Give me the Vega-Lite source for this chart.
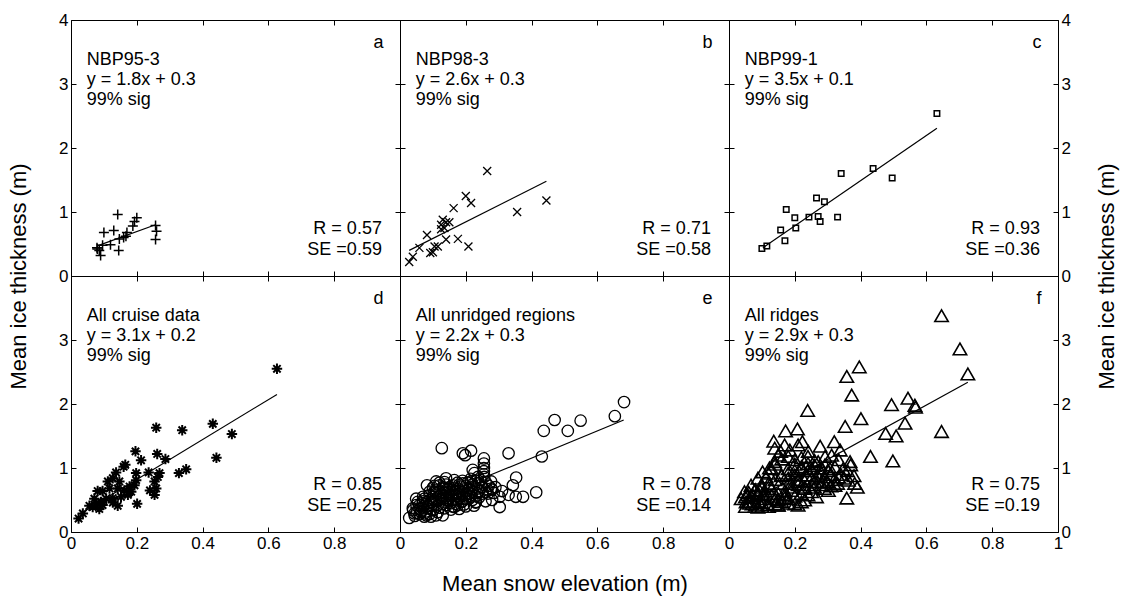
{
"$schema":"https://vega.github.io/schema/vega-lite/v6.json",
"background":"white",
"padding":{"left":6,"top":10,"right":5,"bottom":5},
"bounds":"flush",
"spacing":0,
"columns":3,
"datasets":{
"pts":[
{"p":"a","x":0.142,"y":0.96},{"p":"a","x":0.10,"y":0.68},{"p":"a","x":0.13,"y":0.71},{"p":"a","x":0.08,"y":0.42},{"p":"a","x":0.086,"y":0.40},{"p":"a","x":0.09,"y":0.32},{"p":"a","x":0.096,"y":0.48},{"p":"a","x":0.12,"y":0.49},{"p":"a","x":0.145,"y":0.40},{"p":"a","x":0.147,"y":0.58},{"p":"a","x":0.16,"y":0.60},{"p":"a","x":0.17,"y":0.68},{"p":"a","x":0.188,"y":0.78},{"p":"a","x":0.193,"y":0.85},{"p":"a","x":0.20,"y":0.91},{"p":"a","x":0.257,"y":0.79},{"p":"a","x":0.26,"y":0.70},{"p":"a","x":0.257,"y":0.57},{"p":"a","x":0.079,"y":0.44},{"p":"a","x":0.167,"y":0.62},
{"p":"b","x":0.265,"y":1.64},{"p":"b","x":0.20,"y":1.25},{"p":"b","x":0.216,"y":1.14},{"p":"b","x":0.163,"y":1.06},{"p":"b","x":0.445,"y":1.18},{"p":"b","x":0.356,"y":1.00},{"p":"b","x":0.13,"y":0.88},{"p":"b","x":0.14,"y":0.84},{"p":"b","x":0.15,"y":0.84},{"p":"b","x":0.125,"y":0.80},{"p":"b","x":0.135,"y":0.75},{"p":"b","x":0.082,"y":0.64},{"p":"b","x":0.14,"y":0.57},{"p":"b","x":0.176,"y":0.58},{"p":"b","x":0.208,"y":0.46},{"p":"b","x":0.059,"y":0.44},{"p":"b","x":0.105,"y":0.46},{"p":"b","x":0.115,"y":0.46},{"p":"b","x":0.092,"y":0.36},{"p":"b","x":0.10,"y":0.37},{"p":"b","x":0.039,"y":0.30},{"p":"b","x":0.028,"y":0.22},{"p":"b","x":0.125,"y":0.73},
{"p":"c","x":0.632,"y":2.54},{"p":"c","x":0.438,"y":1.68},{"p":"c","x":0.496,"y":1.53},{"p":"c","x":0.341,"y":1.60},{"p":"c","x":0.266,"y":1.22},{"p":"c","x":0.29,"y":1.16},{"p":"c","x":0.174,"y":1.04},{"p":"c","x":0.20,"y":0.91},{"p":"c","x":0.243,"y":0.92},{"p":"c","x":0.271,"y":0.93},{"p":"c","x":0.277,"y":0.85},{"p":"c","x":0.33,"y":0.92},{"p":"c","x":0.203,"y":0.75},{"p":"c","x":0.157,"y":0.72},{"p":"c","x":0.17,"y":0.55},{"p":"c","x":0.10,"y":0.43},{"p":"c","x":0.115,"y":0.47},
{"p":"d","x":0.626,"y":2.55},{"p":"d","x":0.431,"y":1.69},{"p":"d","x":0.489,"y":1.53},{"p":"d","x":0.259,"y":1.63},{"p":"d","x":0.338,"y":1.59},{"p":"d","x":0.442,"y":1.16},{"p":"d","x":0.196,"y":1.26},{"p":"d","x":0.213,"y":1.12},{"p":"d","x":0.262,"y":1.22},{"p":"d","x":0.287,"y":1.14},{"p":"d","x":0.165,"y":1.05},{"p":"d","x":0.16,"y":1.02},{"p":"d","x":0.328,"y":0.92},{"p":"d","x":0.35,"y":0.98},{"p":"d","x":0.269,"y":0.92},{"p":"d","x":0.236,"y":0.93},{"p":"d","x":0.198,"y":0.92},{"p":"d","x":0.137,"y":0.93},{"p":"d","x":0.127,"y":0.84},{"p":"d","x":0.254,"y":0.79},{"p":"d","x":0.264,"y":0.86},{"p":"d","x":0.198,"y":0.81},{"p":"d","x":0.193,"y":0.73},{"p":"d","x":0.259,"y":0.68},{"p":"d","x":0.254,"y":0.58},{"p":"d","x":0.147,"y":0.79},{"p":"d","x":0.112,"y":0.79},{"p":"d","x":0.117,"y":0.68},{"p":"d","x":0.081,"y":0.64},{"p":"d","x":0.096,"y":0.64},{"p":"d","x":0.142,"y":0.68},{"p":"d","x":0.162,"y":0.65},{"p":"d","x":0.173,"y":0.58},{"p":"d","x":0.178,"y":0.71},{"p":"d","x":0.152,"y":0.55},{"p":"d","x":0.127,"y":0.53},{"p":"d","x":0.107,"y":0.52},{"p":"d","x":0.091,"y":0.47},{"p":"d","x":0.076,"y":0.45},{"p":"d","x":0.056,"y":0.41},{"p":"d","x":0.066,"y":0.39},{"p":"d","x":0.086,"y":0.36},{"p":"d","x":0.096,"y":0.42},{"p":"d","x":0.142,"y":0.41},{"p":"d","x":0.201,"y":0.44},{"p":"d","x":0.036,"y":0.29},{"p":"d","x":0.023,"y":0.21},{"p":"d","x":0.127,"y":0.46},{"p":"d","x":0.071,"y":0.52},{"p":"d","x":0.183,"y":0.63},{"p":"d","x":0.24,"y":0.65},
{"p":"e","x":0.681,"y":2.03},{"p":"e","x":0.653,"y":1.81},{"p":"e","x":0.549,"y":1.74},{"p":"e","x":0.47,"y":1.75},{"p":"e","x":0.51,"y":1.58},{"p":"e","x":0.437,"y":1.58},{"p":"e","x":0.431,"y":1.18},{"p":"e","x":0.33,"y":1.23},{"p":"e","x":0.127,"y":1.31},{"p":"e","x":0.191,"y":1.23},{"p":"e","x":0.216,"y":1.27},{"p":"e","x":0.198,"y":1.20},{"p":"e","x":0.255,"y":1.15},{"p":"e","x":0.255,"y":1.07},{"p":"e","x":0.255,"y":1.00},{"p":"e","x":0.255,"y":0.95},{"p":"e","x":0.255,"y":0.90},{"p":"e","x":0.353,"y":0.85},{"p":"e","x":0.343,"y":0.73},{"p":"e","x":0.414,"y":0.62},{"p":"e","x":0.374,"y":0.55},{"p":"e","x":0.352,"y":0.55},{"p":"e","x":0.303,"y":0.55},{"p":"e","x":0.303,"y":0.39},{"p":"e","x":0.267,"y":0.60},{"p":"e","x":0.277,"y":0.79},{"p":"e","x":0.226,"y":0.92},{"p":"e","x":0.216,"y":0.79},{"p":"e","x":0.237,"y":0.68},{"p":"e","x":0.201,"y":0.52},{"p":"e","x":0.176,"y":0.42},{"p":"e","x":0.14,"y":0.42},{"p":"e","x":0.11,"y":0.26},{"p":"e","x":0.074,"y":0.24},{"p":"e","x":0.028,"y":0.22},{"p":"e","x":0.039,"y":0.37},{"p":"e","x":0.054,"y":0.47},{"p":"e","x":0.082,"y":0.73},{"p":"e","x":0.11,"y":0.79},{"p":"e","x":0.14,"y":0.84},{"p":"e","x":0.165,"y":0.81},{"p":"e","x":0.191,"y":0.76},{"p":"e","x":0.135,"y":0.68},{"p":"e","x":0.105,"y":0.63},{"p":"e","x":0.074,"y":0.52},{"p":"e","x":0.059,"y":0.42},{"p":"e","x":0.094,"y":0.47},{"p":"e","x":0.125,"y":0.52},{"p":"e","x":0.155,"y":0.58},{"p":"e","x":0.176,"y":0.68},{"p":"e","x":0.115,"y":0.42},{"p":"e","x":0.084,"y":0.37},{"p":"e","x":0.064,"y":0.31},{"p":"e","x":0.145,"y":0.50},{"p":"e","x":0.206,"y":0.65},{"p":"e","x":0.237,"y":0.86},{"p":"e","x":0.221,"y":0.97},{"p":"e","x":0.256,"y":0.86},{"p":"e","x":0.277,"y":0.68},{"p":"e","x":0.231,"y":0.47},{"p":"e","x":0.044,"y":0.29},{"p":"e","x":0.094,"y":0.24},{"p":"e","x":0.13,"y":0.26},{"p":"e","x":0.165,"y":0.39},{"p":"e","x":0.049,"y":0.52},{"p":"e","x":0.12,"y":0.73},{"p":"e","x":0.16,"y":0.73},{"p":"e","x":0.186,"y":0.47},{"p":"e","x":0.069,"y":0.45},
{"p":"e","x":0.05,"y":0.30},{"p":"e","x":0.06,"y":0.36},{"p":"e","x":0.07,"y":0.40},{"p":"e","x":0.08,"y":0.44},{"p":"e","x":0.09,"y":0.50},{"p":"e","x":0.10,"y":0.55},{"p":"e","x":0.11,"y":0.60},{"p":"e","x":0.12,"y":0.64},{"p":"e","x":0.13,"y":0.70},{"p":"e","x":0.14,"y":0.74},{"p":"e","x":0.15,"y":0.70},{"p":"e","x":0.16,"y":0.66},{"p":"e","x":0.17,"y":0.62},{"p":"e","x":0.18,"y":0.74},{"p":"e","x":0.19,"y":0.80},{"p":"e","x":0.20,"y":0.72},{"p":"e","x":0.21,"y":0.68},{"p":"e","x":0.22,"y":0.74},{"p":"e","x":0.23,"y":0.80},{"p":"e","x":0.24,"y":0.76},{"p":"e","x":0.25,"y":0.70},{"p":"e","x":0.26,"y":0.78},{"p":"e","x":0.27,"y":0.72},{"p":"e","x":0.28,"y":0.66},{"p":"e","x":0.06,"y":0.28},{"p":"e","x":0.08,"y":0.32},{"p":"e","x":0.10,"y":0.34},{"p":"e","x":0.12,"y":0.38},{"p":"e","x":0.14,"y":0.46},{"p":"e","x":0.16,"y":0.50},{"p":"e","x":0.18,"y":0.54},{"p":"e","x":0.20,"y":0.58},{"p":"e","x":0.22,"y":0.62},{"p":"e","x":0.07,"y":0.48},{"p":"e","x":0.09,"y":0.58},{"p":"e","x":0.11,"y":0.66},{"p":"e","x":0.13,"y":0.56},{"p":"e","x":0.15,"y":0.60},{"p":"e","x":0.17,"y":0.44},{"p":"e","x":0.19,"y":0.48},{"p":"e","x":0.21,"y":0.52},{"p":"e","x":0.23,"y":0.56},{"p":"e","x":0.25,"y":0.60},{"p":"e","x":0.04,"y":0.34},{"p":"e","x":0.05,"y":0.42},{"p":"e","x":0.08,"y":0.26},{"p":"e","x":0.10,"y":0.44},{"p":"e","x":0.12,"y":0.50},{"p":"e","x":0.14,"y":0.56},{"p":"e","x":0.16,"y":0.40},{"p":"e","x":0.18,"y":0.36},{"p":"e","x":0.20,"y":0.40},{"p":"e","x":0.24,"y":0.64},{"p":"e","x":0.26,"y":0.62},{"p":"e","x":0.29,"y":0.70},{"p":"e","x":0.31,"y":0.64},{"p":"e","x":0.33,"y":0.58},{"p":"e","x":0.07,"y":0.55},{"p":"e","x":0.09,"y":0.63},{"p":"e","x":0.11,"y":0.52},{"p":"e","x":0.13,"y":0.44},{"p":"e","x":0.15,"y":0.52},{"p":"e","x":0.17,"y":0.56},{"p":"e","x":0.19,"y":0.62},{"p":"e","x":0.21,"y":0.60},{"p":"e","x":0.23,"y":0.46},{"p":"e","x":0.10,"y":0.69},{"p":"e","x":0.12,"y":0.77},{"p":"e","x":0.14,"y":0.66},{"p":"e","x":0.16,"y":0.58},{"p":"e","x":0.18,"y":0.64},{"p":"e","x":0.20,"y":0.52},{"p":"e","x":0.22,"y":0.50},{"p":"e","x":0.24,"y":0.54},{"p":"e","x":0.26,"y":0.48},{"p":"e","x":0.28,"y":0.50},
{"p":"e","x":0.045,"y":0.25},{"p":"e","x":0.065,"y":0.33},{"p":"e","x":0.085,"y":0.41},{"p":"e","x":0.105,"y":0.49},{"p":"e","x":0.125,"y":0.57},{"p":"e","x":0.145,"y":0.63},{"p":"e","x":0.165,"y":0.69},{"p":"e","x":0.185,"y":0.71},{"p":"e","x":0.205,"y":0.77},{"p":"e","x":0.225,"y":0.71},{"p":"e","x":0.245,"y":0.81},{"p":"e","x":0.075,"y":0.29},{"p":"e","x":0.095,"y":0.35},{"p":"e","x":0.115,"y":0.31},{"p":"e","x":0.135,"y":0.37},{"p":"e","x":0.155,"y":0.45},{"p":"e","x":0.175,"y":0.51},{"p":"e","x":0.195,"y":0.57},{"p":"e","x":0.215,"y":0.55},{"p":"e","x":0.235,"y":0.61},{"p":"e","x":0.265,"y":0.67},{"p":"e","x":0.285,"y":0.61},{"p":"e","x":0.105,"y":0.72},{"p":"e","x":0.135,"y":0.78},{"p":"e","x":0.175,"y":0.77},{"p":"e","x":0.215,"y":0.83},{"p":"e","x":0.155,"y":0.35},{"p":"e","x":0.195,"y":0.43},{"p":"e","x":0.225,"y":0.41},{"p":"e","x":0.09,"y":0.28},
{"p":"f","x":0.646,"y":3.38},{"p":"f","x":0.702,"y":2.86},{"p":"f","x":0.726,"y":2.47},{"p":"f","x":0.396,"y":2.58},{"p":"f","x":0.358,"y":2.43},{"p":"f","x":0.373,"y":2.14},{"p":"f","x":0.239,"y":1.90},{"p":"f","x":0.494,"y":1.99},{"p":"f","x":0.544,"y":2.09},{"p":"f","x":0.565,"y":1.98},{"p":"f","x":0.567,"y":1.95},{"p":"f","x":0.401,"y":1.77},{"p":"f","x":0.535,"y":1.70},{"p":"f","x":0.646,"y":1.57},{"p":"f","x":0.476,"y":1.54},{"p":"f","x":0.508,"y":1.50},{"p":"f","x":0.353,"y":1.65},{"p":"f","x":0.43,"y":1.18},{"p":"f","x":0.498,"y":1.11},{"p":"f","x":0.172,"y":1.58},{"p":"f","x":0.208,"y":1.61},{"p":"f","x":0.223,"y":1.41},{"p":"f","x":0.136,"y":1.42},{"p":"f","x":0.185,"y":1.28},{"p":"f","x":0.157,"y":1.26},{"p":"f","x":0.277,"y":1.34},{"p":"f","x":0.32,"y":1.41},{"p":"f","x":0.338,"y":1.28},{"p":"f","x":0.292,"y":1.18},{"p":"f","x":0.368,"y":1.10},{"p":"f","x":0.347,"y":0.99},{"p":"f","x":0.382,"y":0.76},{"p":"f","x":0.363,"y":0.81},{"p":"f","x":0.358,"y":0.53},{"p":"f","x":0.322,"y":0.73},{"p":"f","x":0.307,"y":0.99},{"p":"f","x":0.282,"y":0.92},{"p":"f","x":0.261,"y":0.79},{"p":"f","x":0.24,"y":1.07},{"p":"f","x":0.22,"y":0.99},{"p":"f","x":0.2,"y":1.13},{"p":"f","x":0.18,"y":0.99},{"p":"f","x":0.159,"y":0.89},{"p":"f","x":0.139,"y":1.10},{"p":"f","x":0.129,"y":0.99},{"p":"f","x":0.113,"y":0.86},{"p":"f","x":0.098,"y":0.73},{"p":"f","x":0.078,"y":0.65},{"p":"f","x":0.057,"y":0.58},{"p":"f","x":0.062,"y":0.45},{"p":"f","x":0.088,"y":0.39},{"p":"f","x":0.118,"y":0.43},{"p":"f","x":0.139,"y":0.52},{"p":"f","x":0.169,"y":0.58},{"p":"f","x":0.19,"y":0.65},{"p":"f","x":0.21,"y":0.79},{"p":"f","x":0.231,"y":0.68},{"p":"f","x":0.251,"y":0.63},{"p":"f","x":0.266,"y":0.55},{"p":"f","x":0.302,"y":0.65},{"p":"f","x":0.22,"y":0.47},{"p":"f","x":0.18,"y":0.45},{"p":"f","x":0.149,"y":0.42},{"p":"f","x":0.21,"y":0.42},{"p":"f","x":0.108,"y":0.58},{"p":"f","x":0.072,"y":0.58},{"p":"f","x":0.052,"y":0.47},{"p":"f","x":0.093,"y":0.65},{"p":"f","x":0.123,"y":0.73},{"p":"f","x":0.154,"y":0.76},{"p":"f","x":0.18,"y":0.84},{"p":"f","x":0.2,"y":0.89},{"p":"f","x":0.236,"y":0.89},{"p":"f","x":0.251,"y":0.99},{"p":"f","x":0.271,"y":1.10},{"p":"f","x":0.292,"y":1.05},{"p":"f","x":0.322,"y":1.02},{"p":"f","x":0.333,"y":0.86},{"p":"f","x":0.287,"y":0.79},{"p":"f","x":0.241,"y":1.26},{"p":"f","x":0.169,"y":1.36},{"p":"f","x":0.21,"y":1.36},{"p":"f","x":0.149,"y":1.20},{"p":"f","x":0.123,"y":1.0},{"p":"f","x":0.139,"y":1.31},{"p":"f","x":0.102,"y":0.94},{"p":"f","x":0.088,"y":0.84},{"p":"f","x":0.067,"y":0.73},{"p":"f","x":0.047,"y":0.63},{"p":"f","x":0.037,"y":0.52},{"p":"f","x":0.312,"y":1.2},{"p":"f","x":0.333,"y":1.13},
{"p":"f","x":0.05,"y":0.40},{"p":"f","x":0.07,"y":0.44},{"p":"f","x":0.09,"y":0.48},{"p":"f","x":0.11,"y":0.52},{"p":"f","x":0.13,"y":0.56},{"p":"f","x":0.15,"y":0.60},{"p":"f","x":0.17,"y":0.64},{"p":"f","x":0.19,"y":0.70},{"p":"f","x":0.21,"y":0.74},{"p":"f","x":0.23,"y":0.80},{"p":"f","x":0.25,"y":0.84},{"p":"f","x":0.27,"y":0.88},{"p":"f","x":0.29,"y":0.86},{"p":"f","x":0.31,"y":0.90},{"p":"f","x":0.06,"y":0.62},{"p":"f","x":0.08,"y":0.66},{"p":"f","x":0.10,"y":0.70},{"p":"f","x":0.12,"y":0.76},{"p":"f","x":0.14,"y":0.82},{"p":"f","x":0.16,"y":0.88},{"p":"f","x":0.18,"y":0.92},{"p":"f","x":0.20,"y":0.96},{"p":"f","x":0.22,"y":1.02},{"p":"f","x":0.24,"y":0.96},{"p":"f","x":0.26,"y":1.04},{"p":"f","x":0.28,"y":1.00},{"p":"f","x":0.30,"y":0.96},{"p":"f","x":0.08,"y":0.42},{"p":"f","x":0.10,"y":0.46},{"p":"f","x":0.12,"y":0.40},{"p":"f","x":0.14,"y":0.44},{"p":"f","x":0.16,"y":0.48},{"p":"f","x":0.18,"y":0.52},{"p":"f","x":0.20,"y":0.56},{"p":"f","x":0.22,"y":0.60},{"p":"f","x":0.24,"y":0.58},{"p":"f","x":0.26,"y":0.70},{"p":"f","x":0.28,"y":0.74},{"p":"f","x":0.30,"y":0.78},{"p":"f","x":0.32,"y":0.82},{"p":"f","x":0.34,"y":0.90},{"p":"f","x":0.36,"y":0.96},{"p":"f","x":0.07,"y":0.54},{"p":"f","x":0.09,"y":0.60},{"p":"f","x":0.11,"y":0.64},{"p":"f","x":0.13,"y":0.68},{"p":"f","x":0.15,"y":0.50},{"p":"f","x":0.17,"y":0.54},{"p":"f","x":0.19,"y":0.76},{"p":"f","x":0.21,"y":0.82},{"p":"f","x":0.23,"y":0.70},{"p":"f","x":0.25,"y":0.74},{"p":"f","x":0.27,"y":0.78},{"p":"f","x":0.29,"y":0.68},{"p":"f","x":0.31,"y":0.72},{"p":"f","x":0.33,"y":0.76},{"p":"f","x":0.35,"y":0.84},{"p":"f","x":0.12,"y":0.92},{"p":"f","x":0.14,"y":1.06},{"p":"f","x":0.16,"y":1.14},{"p":"f","x":0.18,"y":1.18},{"p":"f","x":0.20,"y":1.06},{"p":"f","x":0.22,"y":1.16},{"p":"f","x":0.24,"y":1.18},{"p":"f","x":0.26,"y":1.12},{"p":"f","x":0.10,"y":0.40},{"p":"f","x":0.15,"y":0.42},{"p":"f","x":0.20,"y":0.44},{"p":"f","x":0.23,"y":0.50},{"p":"f","x":0.05,"y":0.55},{"p":"f","x":0.06,"y":0.48},{"p":"f","x":0.38,"y":0.88},{"p":"f","x":0.37,"y":1.05},{"p":"f","x":0.39,"y":0.70}
],
"lines":[
{"p":"a","x":0.08,"y":0.47},{"p":"a","x":0.257,"y":0.80},
{"p":"b","x":0.028,"y":0.40},{"p":"b","x":0.445,"y":1.48},
{"p":"c","x":0.103,"y":0.44},{"p":"c","x":0.632,"y":2.31},
{"p":"d","x":0.03,"y":0.29},{"p":"d","x":0.626,"y":2.15},
{"p":"e","x":0.03,"y":0.37},{"p":"e","x":0.68,"y":1.75},
{"p":"f","x":0.04,"y":0.40},{"p":"f","x":0.726,"y":2.34}
],
"notes":[
{"p":"a","head":"NBP95-3\ny = 1.8x + 0.3\n99% sig","stats":"R = 0.57\nSE =0.59","letter":"a"},
{"p":"b","head":"NBP98-3\ny = 2.6x + 0.3\n99% sig","stats":"R = 0.71\nSE =0.58","letter":"b"},
{"p":"c","head":"NBP99-1\ny = 3.5x + 0.1\n99% sig","stats":"R = 0.93\nSE =0.36","letter":"c"},
{"p":"d","head":"All cruise data\ny = 3.1x + 0.2\n99% sig","stats":"R = 0.85\nSE =0.25","letter":"d"},
{"p":"e","head":"All unridged regions\ny = 2.2x + 0.3\n99% sig","stats":"R = 0.78\nSE =0.14","letter":"e"},
{"p":"f","head":"All ridges\ny = 2.9x + 0.3\n99% sig","stats":"R = 0.75\nSE =0.19","letter":"f"}
]
},
"concat":[
{"width":329,"height":256,"layer":[
{"data":{"name":"pts"},"transform":[{"filter":"datum.p==='a'"}],"mark":{"type":"point","shape":"M-1,0H1M0,-1V1","size":100,"filled":false,"stroke":"black","strokeWidth":1.5,"opacity":1},
"encoding":{"x":{"field":"x","type":"quantitative","scale":{"domain":[0,1],"nice":false},"axis":{"orient":"bottom","values":[0,0.2,0.4,0.6,0.8,1],"labels":false,"title":null}},
"y":{"field":"y","type":"quantitative","scale":{"domain":[0,4],"nice":false},"axis":{"orient":"left","values":[0,1,2,3,4],"title":"Mean ice thickness (m)","titleX":-53,"titleY":256,"titleBaseline":"middle","titleAngle":270}}}},
{"data":{"name":"lines"},"transform":[{"filter":"datum.p==='a'"}],"mark":{"type":"line","color":"black","strokeWidth":1.2},
"encoding":{"x":{"field":"x","type":"quantitative","axis":{"orient":"top","values":[0,0.2,0.4,0.6,0.8,1],"labels":false,"title":null}},"y":{"field":"y","type":"quantitative","axis":{"orient":"right","values":[0,1,2,3,4],"labels":false,"title":null}}}},
{"data":{"name":"notes"},"transform":[{"filter":"datum.p==='a'"}],"mark":{"type":"text","align":"left","baseline":"alphabetic","lineBreak":"\n","lineHeight":20},
"encoding":{"x":{"datum":0.048,"type":"quantitative","axis":null},"y":{"datum":3.29,"type":"quantitative","axis":null},"text":{"field":"head"}}},
{"data":{"name":"notes"},"transform":[{"filter":"datum.p==='a'"}],"mark":{"type":"text","align":"right","baseline":"alphabetic","lineBreak":"\n","lineHeight":21},
"encoding":{"x":{"datum":0.945,"type":"quantitative","axis":null},"y":{"datum":0.66,"type":"quantitative","axis":null},"text":{"field":"stats"}}},
{"data":{"name":"notes"},"transform":[{"filter":"datum.p==='a'"}],"mark":{"type":"text","align":"right","baseline":"alphabetic"},
"encoding":{"x":{"datum":0.95,"type":"quantitative","axis":null},"y":{"datum":3.56,"type":"quantitative","axis":null},"text":{"field":"letter"}}}
],"resolve":{"axis":{"x":"independent","y":"independent"}}},
{"width":329,"height":256,"layer":[
{"data":{"name":"pts"},"transform":[{"filter":"datum.p==='b'"}],"mark":{"type":"point","shape":"M-1,-1L1,1M1,-1L-1,1","size":64,"filled":false,"stroke":"black","strokeWidth":1.3,"opacity":1},
"encoding":{"x":{"field":"x","type":"quantitative","scale":{"domain":[0,1],"nice":false},"axis":{"orient":"bottom","values":[0,0.2,0.4,0.6,0.8,1],"labels":false,"title":null}},
"y":{"field":"y","type":"quantitative","scale":{"domain":[0,4],"nice":false},"axis":{"orient":"left","values":[0,1,2,3,4],"labels":false,"title":null}}}},
{"data":{"name":"lines"},"transform":[{"filter":"datum.p==='b'"}],"mark":{"type":"line","color":"black","strokeWidth":1.2},
"encoding":{"x":{"field":"x","type":"quantitative","axis":{"orient":"top","values":[0,0.2,0.4,0.6,0.8,1],"labels":false,"title":null}},"y":{"field":"y","type":"quantitative","axis":{"orient":"right","values":[0,1,2,3,4],"labels":false,"title":null}}}},
{"data":{"name":"notes"},"transform":[{"filter":"datum.p==='b'"}],"mark":{"type":"text","align":"left","baseline":"alphabetic","lineBreak":"\n","lineHeight":20},
"encoding":{"x":{"datum":0.048,"type":"quantitative","axis":null},"y":{"datum":3.29,"type":"quantitative","axis":null},"text":{"field":"head"}}},
{"data":{"name":"notes"},"transform":[{"filter":"datum.p==='b'"}],"mark":{"type":"text","align":"right","baseline":"alphabetic","lineBreak":"\n","lineHeight":21},
"encoding":{"x":{"datum":0.945,"type":"quantitative","axis":null},"y":{"datum":0.66,"type":"quantitative","axis":null},"text":{"field":"stats"}}},
{"data":{"name":"notes"},"transform":[{"filter":"datum.p==='b'"}],"mark":{"type":"text","align":"right","baseline":"alphabetic"},
"encoding":{"x":{"datum":0.95,"type":"quantitative","axis":null},"y":{"datum":3.56,"type":"quantitative","axis":null},"text":{"field":"letter"}}}
],"resolve":{"axis":{"x":"independent","y":"independent"}}},
{"width":329,"height":256,"layer":[
{"data":{"name":"pts"},"transform":[{"filter":"datum.p==='c'"}],"mark":{"type":"point","shape":"square","size":30,"filled":false,"stroke":"black","strokeWidth":1.5,"opacity":1},
"encoding":{"x":{"field":"x","type":"quantitative","scale":{"domain":[0,1],"nice":false},"axis":{"orient":"bottom","values":[0,0.2,0.4,0.6,0.8,1],"labels":false,"title":null}},
"y":{"field":"y","type":"quantitative","scale":{"domain":[0,4],"nice":false},"axis":{"orient":"left","values":[0,1,2,3,4],"labels":false,"title":null}}}},
{"data":{"name":"lines"},"transform":[{"filter":"datum.p==='c'"}],"mark":{"type":"line","color":"black","strokeWidth":1.2},
"encoding":{"x":{"field":"x","type":"quantitative","axis":{"orient":"top","values":[0,0.2,0.4,0.6,0.8,1],"labels":false,"title":null}},"y":{"field":"y","type":"quantitative","axis":{"orient":"right","values":[0,1,2,3,4],"title":"Mean ice thickness (m)","titleX":48,"titleY":256,"titleBaseline":"middle","titleAngle":270}}}},
{"data":{"name":"notes"},"transform":[{"filter":"datum.p==='c'"}],"mark":{"type":"text","align":"left","baseline":"alphabetic","lineBreak":"\n","lineHeight":20},
"encoding":{"x":{"datum":0.048,"type":"quantitative","axis":null},"y":{"datum":3.29,"type":"quantitative","axis":null},"text":{"field":"head"}}},
{"data":{"name":"notes"},"transform":[{"filter":"datum.p==='c'"}],"mark":{"type":"text","align":"right","baseline":"alphabetic","lineBreak":"\n","lineHeight":21},
"encoding":{"x":{"datum":0.945,"type":"quantitative","axis":null},"y":{"datum":0.66,"type":"quantitative","axis":null},"text":{"field":"stats"}}},
{"data":{"name":"notes"},"transform":[{"filter":"datum.p==='c'"}],"mark":{"type":"text","align":"right","baseline":"alphabetic"},
"encoding":{"x":{"datum":0.95,"type":"quantitative","axis":null},"y":{"datum":3.56,"type":"quantitative","axis":null},"text":{"field":"letter"}}}
],"resolve":{"axis":{"x":"independent","y":"independent"}}},
{"width":329,"height":256,"layer":[
{"data":{"name":"pts"},"transform":[{"filter":"datum.p==='d'"}],"mark":{"type":"point","shape":"M-1,0H1M0,-1V1M-0.7,-0.7L0.7,0.7M0.7,-0.7L-0.7,0.7","size":110,"filled":false,"stroke":"black","strokeWidth":2,"opacity":1},
"encoding":{"x":{"field":"x","type":"quantitative","scale":{"domain":[0,1],"nice":false},"axis":{"orient":"bottom","values":[0,0.2,0.4,0.6,0.8,1],"format":"~g","labelExpr":"datum.value==1?'':datum.label","title":null}},
"y":{"field":"y","type":"quantitative","scale":{"domain":[0,4],"nice":false},"axis":{"orient":"left","values":[0,1,2,3,4],"labelExpr":"datum.value==4?'':datum.label","title":null}}}},
{"data":{"name":"lines"},"transform":[{"filter":"datum.p==='d'"}],"mark":{"type":"line","color":"black","strokeWidth":1.2},
"encoding":{"x":{"field":"x","type":"quantitative","axis":{"orient":"top","values":[0,0.2,0.4,0.6,0.8,1],"labels":false,"title":null}},"y":{"field":"y","type":"quantitative","axis":{"orient":"right","values":[0,1,2,3,4],"labels":false,"title":null}}}},
{"data":{"name":"notes"},"transform":[{"filter":"datum.p==='d'"}],"mark":{"type":"text","align":"left","baseline":"alphabetic","lineBreak":"\n","lineHeight":20},
"encoding":{"x":{"datum":0.048,"type":"quantitative","axis":null},"y":{"datum":3.29,"type":"quantitative","axis":null},"text":{"field":"head"}}},
{"data":{"name":"notes"},"transform":[{"filter":"datum.p==='d'"}],"mark":{"type":"text","align":"right","baseline":"alphabetic","lineBreak":"\n","lineHeight":21},
"encoding":{"x":{"datum":0.945,"type":"quantitative","axis":null},"y":{"datum":0.65,"type":"quantitative","axis":null},"text":{"field":"stats"}}},
{"data":{"name":"notes"},"transform":[{"filter":"datum.p==='d'"}],"mark":{"type":"text","align":"right","baseline":"alphabetic"},
"encoding":{"x":{"datum":0.95,"type":"quantitative","axis":null},"y":{"datum":3.56,"type":"quantitative","axis":null},"text":{"field":"letter"}}}
],"resolve":{"axis":{"x":"independent","y":"independent"}}},
{"width":329,"height":256,"layer":[
{"data":{"name":"pts"},"transform":[{"filter":"datum.p==='e'"}],"mark":{"type":"point","shape":"circle","size":130,"filled":false,"stroke":"black","strokeWidth":1.3,"opacity":1},
"encoding":{"x":{"field":"x","type":"quantitative","scale":{"domain":[0,1],"nice":false},"axis":{"orient":"bottom","values":[0,0.2,0.4,0.6,0.8,1],"format":"~g","labelExpr":"datum.value==1?'':datum.label","title":"Mean snow elevation (m)","titleY":51,"titleBaseline":"middle"}},
"y":{"field":"y","type":"quantitative","scale":{"domain":[0,4],"nice":false},"axis":{"orient":"left","values":[0,1,2,3,4],"labels":false,"title":null}}}},
{"data":{"name":"lines"},"transform":[{"filter":"datum.p==='e'"}],"mark":{"type":"line","color":"black","strokeWidth":1.2},
"encoding":{"x":{"field":"x","type":"quantitative","axis":{"orient":"top","values":[0,0.2,0.4,0.6,0.8,1],"labels":false,"title":null}},"y":{"field":"y","type":"quantitative","axis":{"orient":"right","values":[0,1,2,3,4],"labels":false,"title":null}}}},
{"data":{"name":"notes"},"transform":[{"filter":"datum.p==='e'"}],"mark":{"type":"text","align":"left","baseline":"alphabetic","lineBreak":"\n","lineHeight":20},
"encoding":{"x":{"datum":0.048,"type":"quantitative","axis":null},"y":{"datum":3.29,"type":"quantitative","axis":null},"text":{"field":"head"}}},
{"data":{"name":"notes"},"transform":[{"filter":"datum.p==='e'"}],"mark":{"type":"text","align":"right","baseline":"alphabetic","lineBreak":"\n","lineHeight":21},
"encoding":{"x":{"datum":0.945,"type":"quantitative","axis":null},"y":{"datum":0.65,"type":"quantitative","axis":null},"text":{"field":"stats"}}},
{"data":{"name":"notes"},"transform":[{"filter":"datum.p==='e'"}],"mark":{"type":"text","align":"right","baseline":"alphabetic"},
"encoding":{"x":{"datum":0.95,"type":"quantitative","axis":null},"y":{"datum":3.56,"type":"quantitative","axis":null},"text":{"field":"letter"}}}
],"resolve":{"axis":{"x":"independent","y":"independent"}}},
{"width":329,"height":256,"layer":[
{"data":{"name":"pts"},"transform":[{"filter":"datum.p==='f'"}],"mark":{"type":"point","shape":"triangle-up","size":180,"filled":false,"stroke":"black","strokeWidth":1.6,"opacity":1},
"encoding":{"x":{"field":"x","type":"quantitative","scale":{"domain":[0,1],"nice":false},"axis":{"orient":"bottom","values":[0,0.2,0.4,0.6,0.8,1],"format":"~g","title":null}},
"y":{"field":"y","type":"quantitative","scale":{"domain":[0,4],"nice":false},"axis":{"orient":"left","values":[0,1,2,3,4],"labels":false,"title":null}}}},
{"data":{"name":"lines"},"transform":[{"filter":"datum.p==='f'"}],"mark":{"type":"line","color":"black","strokeWidth":1.2},
"encoding":{"x":{"field":"x","type":"quantitative","axis":{"orient":"top","values":[0,0.2,0.4,0.6,0.8,1],"labels":false,"title":null}},"y":{"field":"y","type":"quantitative","axis":{"orient":"right","values":[0,1,2,3,4],"labelExpr":"datum.value==4?'':datum.label","title":null}}}},
{"data":{"name":"notes"},"transform":[{"filter":"datum.p==='f'"}],"mark":{"type":"text","align":"left","baseline":"alphabetic","lineBreak":"\n","lineHeight":20},
"encoding":{"x":{"datum":0.048,"type":"quantitative","axis":null},"y":{"datum":3.29,"type":"quantitative","axis":null},"text":{"field":"head"}}},
{"data":{"name":"notes"},"transform":[{"filter":"datum.p==='f'"}],"mark":{"type":"text","align":"right","baseline":"alphabetic","lineBreak":"\n","lineHeight":21},
"encoding":{"x":{"datum":0.945,"type":"quantitative","axis":null},"y":{"datum":0.65,"type":"quantitative","axis":null},"text":{"field":"stats"}}},
{"data":{"name":"notes"},"transform":[{"filter":"datum.p==='f'"}],"mark":{"type":"text","align":"right","baseline":"alphabetic"},
"encoding":{"x":{"datum":0.95,"type":"quantitative","axis":null},"y":{"datum":3.56,"type":"quantitative","axis":null},"text":{"field":"letter"}}}
],"resolve":{"axis":{"x":"independent","y":"independent"}}}
],
"config":{
"view":{"stroke":"black","strokeWidth":1},
"axis":{"domain":false,"grid":false,"ticks":true,"tickSize":-5,"tickColor":"black","tickWidth":1,"labelFont":"Liberation Sans","labelFontSize":17,"labelColor":"black","labelPadding":8,"labelFlush":false,"labelOverlap":false,"titleFont":"Liberation Sans","titleFontSize":22,"titleFontWeight":"normal","titleColor":"black"},
"text":{"font":"Liberation Sans","fontSize":18,"color":"black"}
}
}
